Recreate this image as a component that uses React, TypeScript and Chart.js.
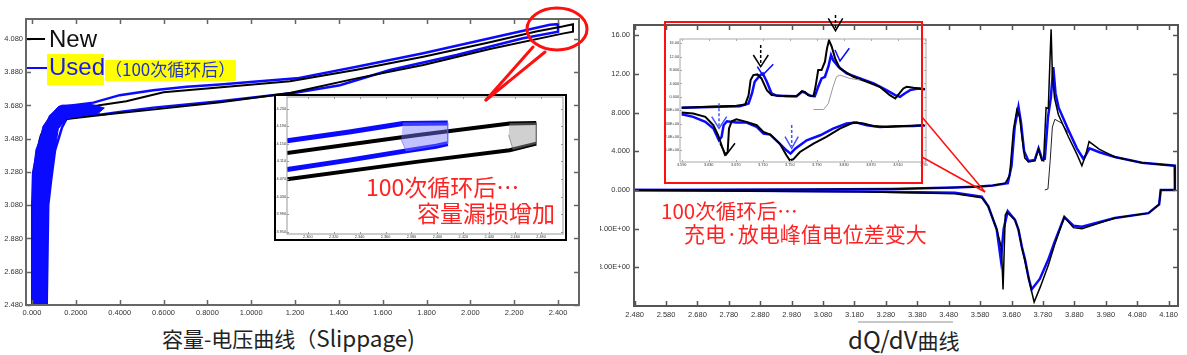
import React, { useEffect, useRef } from "react";
import { Chart, registerables } from "chart.js";

Chart.register(...registerables);

type P = [number, number];

const BLUE = "#0a0aff";
const NARROW = '"Liberation Sans", Arial, sans-serif';
const CJK = '"Noto Sans CJK JP", "Noto Sans CJK SC", sans-serif';

// ---------- Left chart: capacity / voltage ----------
const CV_X_TICKS = [0, 0.2, 0.4, 0.6, 0.8, 1.0, 1.2, 1.4, 1.6, 1.8, 2.0, 2.2, 2.4];
const CV_X_LABELS = ["0.000", "0.2000", "0.4000", "0.6000", "0.8000", "1.0000", "1.200", "1.400", "1.600", "1.800", "2.000", "2.200", "2.400"];
const CV_Y_TICKS = [2.48, 2.68, 2.88, 3.08, 3.28, 3.48, 3.68, 3.88, 4.08];
const CV_Y_LABELS = ["2.480", "2.680", "2.880", "3.080", "3.280", "3.480", "3.680", "3.880", "4.080"];

const NEW_LOOP: P[] = [
  [0.004, 2.48], [0.006, 3.0], [0.012, 3.3], [0.04, 3.5], [0.08, 3.6], [0.12, 3.655], [0.2, 3.672],
  [0.3, 3.68], [0.43, 3.705], [0.6, 3.76], [0.89, 3.792], [1.177, 3.826], [1.481, 3.895], [1.785, 3.973],
  [2.089, 4.06], [2.3, 4.125], [2.42, 4.155], [2.468, 4.169], [2.468, 4.124], [2.42, 4.112], [2.089, 4.02],
  [1.785, 3.923], [1.481, 3.843], [1.177, 3.755], [0.86, 3.7], [0.55, 3.655], [0.356, 3.628], [0.158, 3.598],
  [0.12, 3.58], [0.1, 3.53], [0.06, 3.3], [0.03, 3.0], [0.015, 2.48],
];
const USED_LOOP: P[] = [
  [0.0, 2.48], [0.001, 3.08], [0.005, 3.276], [0.036, 3.476], [0.082, 3.615], [0.128, 3.671], [0.189, 3.681],
  [0.28, 3.697], [0.4, 3.742], [0.553, 3.772], [0.706, 3.792], [0.858, 3.806], [1.01, 3.822], [1.208, 3.843],
  [1.481, 3.913], [1.785, 3.994], [2.089, 4.084], [2.363, 4.165], [2.4, 4.169], [2.4, 4.124], [2.24, 4.084],
  [1.937, 3.983], [1.633, 3.893], [1.405, 3.802], [1.208, 3.758], [0.858, 3.705], [0.553, 3.667], [0.4, 3.641],
  [0.325, 3.627], [0.25, 3.621], [0.158, 3.601], [0.137, 3.548], [0.105, 3.41], [0.087, 3.23], [0.074, 3.08],
  [0.067, 2.48],
];
const USED_BAND: P[] = [
  [-0.001, 2.48], [0.0, 2.88], [0.001, 3.08], [0.005, 3.276], [0.018, 3.415], [0.036, 3.476], [0.05, 3.555],
  [0.082, 3.615], [0.119, 3.672], [0.137, 3.682], [0.19, 3.682], [0.26, 3.69], [0.33, 3.665], [0.3, 3.63],
  [0.22, 3.615], [0.158, 3.6], [0.12, 3.54], [0.105, 3.41], [0.087, 3.23], [0.074, 3.08], [0.068, 2.88],
  [0.067, 2.48],
];

// ---------- Left inset ----------
const CI_X_TICKS = [2.3, 2.32, 2.34, 2.36, 2.38, 2.4, 2.42, 2.44, 2.46, 2.48];
const CI_X_LABELS = ["2.300", "2.320", "2.340", "2.360", "2.380", "2.400", "2.420", "2.440", "2.460", "2.480"];
const CI_Y_TICKS = [3.95, 3.99, 4.03, 4.07, 4.11, 4.15, 4.19, 4.23];
const CI_Y_LABELS = ["3.950", "3.990", "4.030", "4.070", "4.110", "4.150", "4.190", "4.230"];
const CI_USED_UP: P[] = [[2.284, 4.157], [2.332, 4.177], [2.3734, 4.196], [2.408, 4.1975]];
const CI_USED_LOW: P[] = [[2.284, 4.0916], [2.332, 4.113], [2.3759, 4.134], [2.399, 4.1446], [2.408, 4.1506]];
const CI_USED_FAN: P[] = [[2.3734, 4.1975], [2.408, 4.1975], [2.408, 4.1506], [2.3759, 4.134], [2.372, 4.16]];
const CI_NEW_UP: P[] = [[2.284, 4.1294], [2.3837, 4.1695], [2.4557, 4.196], [2.4763, 4.1975]];
const CI_NEW_LOW: P[] = [[2.284, 4.0697], [2.3837, 4.109], [2.4557, 4.1355], [2.4763, 4.1506]];
const CI_NEW_FAN: P[] = [[2.4557, 4.196], [2.4763, 4.1975], [2.4763, 4.1506], [2.4583, 4.137], [2.455, 4.17]];

// ---------- Right chart: dQ/dV ----------
const DQ_X_TICKS = [2.48, 2.58, 2.68, 2.78, 2.88, 2.98, 3.08, 3.18, 3.28, 3.38, 3.48, 3.58, 3.68, 3.78, 3.88, 3.98, 4.08, 4.18];
const DQ_X_LABELS = ["2.480", "2.580", "2.680", "2.780", "2.880", "2.980", "3.080", "3.180", "3.280", "3.380", "3.480", "3.580", "3.680", "3.780", "3.880", "3.980", "4.080", "4.180"];
const DQ_Y_TICKS = [-8, -4, 0, 4, 8, 12, 16];
const DQ_Y_LABELS = ["-8.00E+00", "-4.00E+00", "0.000", "4.000", "8.000", "12.00", "16.00"];

const NEW_CHG: P[] = [
  [2.48, 0.0], [3.0, 0.05], [3.3, 0.1], [3.5, 0.25], [3.58, 0.35], [3.62, 0.45], [3.66, 0.7], [3.674, 1.5],
  [3.686, 6.2], [3.697, 8.3], [3.706, 7.5], [3.713, 5.5], [3.722, 3.3], [3.734, 2.9], [3.754, 3.0], [3.766, 4.2],
  [3.776, 3.1], [3.782, 3.0], [3.79, 8.5], [3.797, 8.4], [3.803, 14], [3.806, 16.6], [3.81, 12], [3.817, 9.5],
  [3.829, 7.8], [3.861, 5.5], [3.888, 3.7], [3.904, 2.5], [3.915, 3.5], [3.927, 5.0], [3.96, 4.2], [4.009, 3.4],
  [4.095, 2.8], [4.199, 2.5], [4.2, 0],
];
const NEW_DIS: P[] = [
  [4.2, 0], [4.155, 0], [4.15, -1.5], [4.116, -2.4], [4.009, -2.9], [3.904, -4.0], [3.877, -3.9], [3.848, -2.8],
  [3.818, -5.6], [3.797, -7.8], [3.772, -10], [3.752, -11.6], [3.744, -10.5], [3.723, -7.4], [3.713, -6.0],
  [3.702, -4.1], [3.691, -3.1], [3.665, -2.3], [3.66, -2.6], [3.653, -10.3], [3.648, -6], [3.633, -4.1],
  [3.606, -1.7], [3.585, -0.8], [3.5, -0.4], [3.2, -0.2], [2.48, -0.05],
];
const FIRST_CHG: P[] = [[3.786, 0], [3.796, 0.1], [3.803, 3], [3.81, 6.5], [3.818, 7.3], [3.84, 6.9], [3.86, 5.9]];
const USED_CHG: P[] = [
  [2.48, 0.0], [3.0, 0.05], [3.3, 0.1], [3.5, 0.25], [3.58, 0.35], [3.62, 0.45], [3.668, 0.7], [3.68, 2.5],
  [3.69, 6.5], [3.702, 8.6], [3.71, 7.0], [3.72, 4.0], [3.734, 3.0], [3.754, 3.1], [3.766, 4.3], [3.778, 3.1],
  [3.786, 3.2], [3.796, 7.5], [3.805, 9.5], [3.813, 12.7], [3.82, 10], [3.83, 8.5], [3.861, 6.2], [3.888, 4.3],
  [3.909, 3.2], [3.918, 3.7], [3.928, 4.3], [3.96, 3.9], [4.009, 3.4], [4.095, 2.8], [4.2, 2.5], [4.2, 0],
];
const USED_DIS: P[] = [
  [4.2, 0], [4.155, 0], [4.15, -1.5], [4.116, -2.4], [4.009, -2.9], [3.904, -3.8], [3.877, -3.7], [3.848, -2.8],
  [3.818, -5.3], [3.797, -7.2], [3.77, -9.2], [3.744, -10.3], [3.735, -9.2], [3.723, -7.2], [3.713, -5.9],
  [3.702, -4.1], [3.691, -3.1], [3.668, -2.2], [3.655, -4], [3.646, -7.2], [3.633, -4.1], [3.606, -1.7],
  [3.585, -0.7], [3.5, -0.3], [3.2, -0.15], [2.48, 0],
];

// ---------- Right inset ----------
const DI_X_TICKS = [3.59, 3.63, 3.67, 3.71, 3.75, 3.79, 3.83, 3.87, 3.91, 3.95];
const DI_X_LABELS = ["3.590", "3.630", "3.670", "3.710", "3.750", "3.790", "3.830", "3.870", "3.910", "3.950"];
const DI_Y_TICKS = [-16, -12, -8, -4, 0, 4, 8, 12, 16];
const DI_Y_LABELS = ["-16.0E+00", "-12.0E+00", "-8.00E+00", "-4.00E+00", "0.000", "4.000", "8.000", "12.00", "16.00"];
const DI_NEW_CHG: P[] = [
  [3.59, -3.3], [3.671, -2.7], [3.684, -2.3], [3.689, 0.5], [3.692, 5.0], [3.696, 6.5], [3.702, 6.7], [3.708, 5.5],
  [3.716, 2.0], [3.723, 0.5], [3.745, 0.2], [3.76, 0.2], [3.768, 1.7], [3.772, 1.5], [3.777, 0.5], [3.785, 0.2],
  [3.788, 3.0], [3.792, 8.0], [3.797, 8.0], [3.802, 10.5], [3.805, 14.5], [3.808, 16.9], [3.812, 15.0],
  [3.817, 11.5], [3.824, 8.5], [3.844, 6.0], [3.864, 4.5], [3.883, 3.0], [3.898, 0.5], [3.906, -0.5],
  [3.91, 0.5], [3.918, 2.5], [3.923, 3.0], [3.933, 2.7], [3.95, 2.3],
];
const DI_USED_CHG: P[] = [
  [3.59, -3.3], [3.676, -2.8], [3.689, -2.0], [3.694, 1.0], [3.698, 4.5], [3.706, 6.5], [3.71, 7.0], [3.716, 4.5],
  [3.723, 1.0], [3.731, 0.3], [3.76, 0.2], [3.768, 1.5], [3.772, 1.3], [3.78, 0.3], [3.787, 0.2], [3.792, 3.0],
  [3.797, 5.5], [3.802, 6.0], [3.807, 9.0], [3.811, 12.5], [3.814, 11.0], [3.822, 9.0], [3.834, 7.0],
  [3.854, 5.5], [3.874, 4.0], [3.893, 2.0], [3.906, 0.5], [3.913, 0.0], [3.92, 1.0], [3.928, 2.0], [3.94, 2.5],
  [3.95, 2.3],
];
const DI_FIRST_CHG: P[] = [[3.785, -3.8], [3.8, -3.8], [3.807, -2.0], [3.814, 3.0], [3.819, 6.0], [3.824, 6.5], [3.839, 5.5], [3.854, 5.0]];
const DI_NEW_DIS: P[] = [
  [3.59, -4.7], [3.607, -5.0], [3.625, -6.0], [3.637, -8.5], [3.644, -11.5], [3.649, -14.5], [3.654, -17.3],
  [3.658, -16.5], [3.66, -9.5], [3.664, -7.3], [3.671, -6.7], [3.686, -7.5], [3.701, -8.5], [3.711, -10.5],
  [3.721, -11.3], [3.735, -14.0], [3.745, -17.5], [3.75, -19.0], [3.755, -18.7], [3.765, -16.5], [3.785, -14.0],
  [3.804, -12.0], [3.824, -9.5], [3.844, -7.7], [3.859, -8.0], [3.873, -8.7], [3.893, -9.0], [3.918, -8.7],
  [3.95, -8.5],
];
const DI_USED_DIS: P[] = [
  [3.59, -5.2], [3.607, -6.0], [3.625, -7.5], [3.637, -9.5], [3.645, -13.0], [3.649, -12.0], [3.652, -8.5],
  [3.657, -7.3], [3.671, -7.7], [3.686, -7.7], [3.701, -9.0], [3.711, -11.0], [3.721, -11.3], [3.735, -14.0],
  [3.745, -16.0], [3.751, -17.0], [3.758, -15.5], [3.775, -13.0], [3.795, -11.5], [3.814, -9.5], [3.834, -8.0],
  [3.849, -7.7], [3.864, -8.5], [3.883, -9.0], [3.908, -8.8], [3.933, -8.7], [3.95, -8.5],
];

// ---------- helpers ----------
const pts = (a: P[]) => a.map(([x, y]) => ({ x, y }));

function line(data: P[], color: string, width: number, extra: any = {}) {
  return {
    data: pts(data),
    borderColor: color,
    backgroundColor: color,
    borderWidth: width,
    pointRadius: 0,
    fill: false,
    tension: 0,
    ...extra,
  };
}

function framePlugin(color: string, width: number, tickLen: number) {
  return {
    id: "frame",
    afterDatasetsDraw(chart: any) {
      const { ctx, chartArea: a, scales } = chart;
      ctx.save();
      ctx.strokeStyle = color;
      ctx.lineWidth = width;
      ctx.strokeRect(a.left, a.top, a.right - a.left, a.bottom - a.top);
      ctx.beginPath();
      scales.x.ticks.forEach((t: any) => {
        const px = Math.round(scales.x.getPixelForValue(t.value)) + 0.5;
        ctx.moveTo(px, a.bottom);
        ctx.lineTo(px, a.bottom - tickLen);
        ctx.moveTo(px, a.top);
        ctx.lineTo(px, a.top + tickLen);
      });
      scales.y.ticks.forEach((t: any) => {
        const py = Math.round(scales.y.getPixelForValue(t.value)) + 0.5;
        ctx.moveTo(a.left, py);
        ctx.lineTo(a.left + tickLen, py);
        ctx.moveTo(a.right, py);
        ctx.lineTo(a.right - tickLen, py);
      });
      ctx.lineWidth = Math.max(1, width - 0.5);
      ctx.stroke();
      ctx.restore();
    },
  };
}

interface AxisSpec {
  xMin: number; xMax: number; yMin: number; yMax: number;
  xTicks: number[]; xLabels: string[]; yTicks: number[]; yLabels: string[];
  yWidth: number; xHeight: number; padding: any; fontSize: number; tickPad: number;
}

function makeOptions(s: AxisSpec) {
  const font = { size: s.fontSize, family: NARROW };
  return {
    responsive: false,
    animation: false,
    events: [],
    layout: { padding: s.padding },
    plugins: { legend: { display: false }, tooltip: { enabled: false } },
    scales: {
      x: {
        type: "linear",
        min: s.xMin,
        max: s.xMax,
        grid: { display: false, drawTicks: false },
        border: { display: false },
        afterBuildTicks: (sc: any) => { sc.ticks = s.xTicks.map((v) => ({ value: v })); },
        afterFit: (sc: any) => { sc.height = s.xHeight; sc.paddingLeft = 0; sc.paddingRight = 0; },
        ticks: {
          autoSkip: false, maxRotation: 0, minRotation: 0, padding: s.tickPad, font, color: "#333",
          callback: (_v: any, i: number) => s.xLabels[i],
        },
      },
      y: {
        type: "linear",
        min: s.yMin,
        max: s.yMax,
        grid: { display: false, drawTicks: false },
        border: { display: false },
        afterBuildTicks: (sc: any) => { sc.ticks = s.yTicks.map((v) => ({ value: v })); },
        afterFit: (sc: any) => { sc.width = s.yWidth; sc.paddingTop = 0; sc.paddingBottom = 0; },
        ticks: {
          autoSkip: false, padding: s.tickPad, font, color: "#333",
          callback: (_v: any, i: number) => s.yLabels[i],
        },
      },
    },
  };
}

function ChartBox(props: { left: number; top: number; width: number; height: number; datasets: any[]; spec: AxisSpec; frame: any; bg?: string }) {
  const ref = useRef<HTMLCanvasElement | null>(null);
  useEffect(() => {
    if (!ref.current) return;
    const chart = new Chart(ref.current, {
      type: "line",
      data: { datasets: props.datasets },
      options: makeOptions(props.spec) as any,
      plugins: [props.frame],
    } as any);
    return () => chart.destroy();
  }, []);
  return (
    <canvas
      ref={ref}
      width={props.width}
      height={props.height}
      style={{ position: "absolute", left: props.left, top: props.top, width: props.width, height: props.height, background: props.bg || "transparent", display: "block" }}
    />
  );
}

const abs = (left: number, top: number, extra: any = {}) => ({ position: "absolute" as const, left, top, whiteSpace: "nowrap" as const, ...extra });

export default function App() {
  const cvSpec: AxisSpec = {
    xMin: -0.0274, xMax: 2.4955, yMin: 2.48, yMax: 4.2,
    xTicks: CV_X_TICKS, xLabels: CV_X_LABELS, yTicks: CV_Y_TICKS, yLabels: CV_Y_LABELS,
    yWidth: 26, xHeight: 15, padding: { top: 19, right: 11, left: 0, bottom: 0 }, fontSize: 7.5, tickPad: 3,
  };
  const ciSpec: AxisSpec = {
    xMin: 2.284, xMax: 2.4969, yMin: 3.945, yMax: 4.2565,
    xTicks: CI_X_TICKS, xLabels: CI_X_LABELS, yTicks: CI_Y_TICKS, yLabels: CI_Y_LABELS,
    yWidth: 11, xHeight: 5, padding: { top: 1, right: 2, left: 0, bottom: 0 }, fontSize: 3.8, tickPad: 1,
  };
  const dqSpec: AxisSpec = {
    xMin: 2.478, xMax: 4.21, yMin: -12, yMax: 17.05,
    xTicks: DQ_X_TICKS, xLabels: DQ_X_LABELS, yTicks: DQ_Y_TICKS, yLabels: DQ_Y_LABELS,
    yWidth: 34, xHeight: 14, padding: { top: 25, right: 9, left: 0, bottom: 0 }, fontSize: 7.5, tickPad: 4,
  };
  const diSpec: AxisSpec = {
    xMin: 3.5875, xMax: 3.9515, yMin: -19.5, yMax: 17.3,
    xTicks: DI_X_TICKS, xLabels: DI_X_LABELS, yTicks: DI_Y_TICKS, yLabels: DI_Y_LABELS,
    yWidth: 16, xHeight: 6, padding: { top: 3, right: 2, left: 0, bottom: 0 }, fontSize: 3.8, tickPad: 1,
  };

  const cvSets = [
    line(USED_BAND, BLUE, 1, { fill: "shape", backgroundColor: BLUE }),
    line(NEW_LOOP, "#000", 2),
    line(USED_LOOP, BLUE, 2.5),
  ];
  const ciSets = [
    line(CI_USED_FAN, "rgba(90,90,255,0.55)", 1, { fill: "shape", backgroundColor: "rgba(120,120,255,0.45)" }),
    line(CI_NEW_FAN, "rgba(90,90,90,0.55)", 1, { fill: "shape", backgroundColor: "rgba(150,150,150,0.45)" }),
    line(CI_USED_UP, BLUE, 5),
    line(CI_USED_LOW, BLUE, 5),
    line(CI_NEW_UP, "#000", 4),
    line(CI_NEW_LOW, "#000", 4),
  ];
  const dqSets = [
    line(NEW_CHG, "#000", 1.5),
    line(NEW_DIS, "#000", 1.5),
    line(FIRST_CHG, "#222", 1),
    line(USED_CHG, BLUE, 2.5),
    line(USED_DIS, BLUE, 2.5),
  ];
  const diSets = [
    line(DI_FIRST_CHG, "#999", 1),
    line(DI_NEW_CHG, "#000", 2),
    line(DI_NEW_DIS, "#000", 2),
    line(DI_USED_CHG, BLUE, 2.5),
    line(DI_USED_DIS, BLUE, 2.5),
  ];

  return (
    <div style={{ position: "absolute", left: 0, top: 0, width: 1187, height: 355, background: "#fff", overflow: "hidden" }}>
      <ChartBox left={0} top={0} width={590} height={320} datasets={cvSets} spec={cvSpec} frame={framePlugin("#666", 2, 5)} />
      <ChartBox left={600} top={0} width={587} height={320} datasets={dqSets} spec={dqSpec} frame={framePlugin("#555", 2, 5)} />

      {/* left inset */}
      <div style={{ position: "absolute", left: 274, top: 94, width: 293, height: 147, border: "2px solid #000", boxSizing: "border-box", background: "#fff" }} />
      <ChartBox left={276} top={96} width={289} height={143} datasets={ciSets} spec={ciSpec} frame={framePlugin("#999", 1, 2)} />

      {/* right inset */}
      <div style={{ position: "absolute", left: 666, top: 36, width: 262, height: 132, background: "#fff" }} />
      <ChartBox left={664} top={36} width={264} height={132} datasets={diSets} spec={diSpec} frame={framePlugin("#aaa", 1, 2)} />

      {/* legend */}
      <div style={abs(47, 54, { width: 57, height: 31, background: "#ffff00" })} />
      <div style={abs(105, 60, { width: 131, height: 21, background: "#ffff00" })} />
      <div style={abs(49, 27, { fontFamily: '"Liberation Sans", sans-serif', fontSize: 24, lineHeight: 1, color: "#111" })}>New</div>
      <div style={abs(49, 55, { fontFamily: '"Liberation Sans", sans-serif', fontSize: 24, lineHeight: 1, color: "#1a1aee" })}>Used</div>
      <div style={abs(105, 60, { fontFamily: CJK, fontSize: 17, lineHeight: 1, color: "#2233cc" })}>（100次循环后）</div>

      {/* red annotations */}
      <div style={abs(366, 175, { fontFamily: CJK, fontSize: 23, lineHeight: 1, color: "#ff2222" })}>100次循环后…</div>
      <div style={abs(417, 201, { fontFamily: CJK, fontSize: 23, lineHeight: 1, color: "#ff2222" })}>容量漏损增加</div>
      <div style={abs(661, 200, { fontFamily: CJK, fontSize: 20.5, lineHeight: 1, color: "#ff2222" })}>100次循环后…</div>
      <div style={abs(684, 223, { fontFamily: CJK, fontSize: 21, lineHeight: 1, color: "#ff2222" })}>充电·放电峰值电位差变大</div>

      {/* titles */}
      <div style={abs(162, 326, { fontFamily: CJK, fontSize: 21, lineHeight: 1, color: "#222" })}>
        容量-电压曲线（<span style={{ fontSize: 22.5 }}>Slippage)</span>
      </div>
      <div style={abs(848, 327, { fontFamily: CJK, lineHeight: "24px", color: "#222" })}>
        <span style={{ fontSize: 24 }}>dQ/dV</span><span style={{ fontSize: 21 }}>曲线</span>
      </div>

      <svg width={1187} height={355} style={{ position: "absolute", left: 0, top: 0, pointerEvents: "none" }}>
        {/* legend line marks */}
        <line x1={27} y1={39} x2={45} y2={39} stroke="#000" strokeWidth={2} />
        <line x1={27} y1={68} x2={47} y2={68} stroke={BLUE} strokeWidth={2} />
        {/* red ellipse callout */}
        <ellipse cx={557} cy={29} rx={30} ry={21} fill="none" stroke="#ff1010" strokeWidth={3} />
        <line x1={533} y1={47} x2={486} y2={100} stroke="#ff1010" strokeWidth={3} strokeLinecap="round" />
        <line x1={545} y1={52} x2={486} y2={100} stroke="#ff1010" strokeWidth={3} strokeLinecap="round" />
        {/* right red box and connectors */}
        <rect x={665} y={22} width={257} height={161} fill="none" stroke="#ff1010" strokeWidth={2} />
        <line x1={922} y1={117} x2={985} y2={192} stroke="#ff1010" strokeWidth={1.5} />
        <line x1={922} y1={157} x2={985} y2={192} stroke="#ff1010" strokeWidth={1.5} />
        {/* arrows */}
        <g fill="none" strokeWidth={1.5}>
          <line x1={835.5} y1={15} x2={835.5} y2={30} stroke="#000" strokeDasharray="3,2" />
          <polyline points="828.3,18.3 835.5,30.7 842.7,18.3" stroke="#000" />
          <line x1={760.7} y1={45} x2={760.7} y2={64} stroke="#000" strokeDasharray="3,2" />
          <polyline points="753.3,55 760.7,66.7 768.3,55" stroke="#000" />
          <polyline points="757.3,66.7 762.7,75 773.3,64.3" stroke={BLUE} />
          <polyline points="835,50 840,61 849.3,48.3" stroke={BLUE} />
          <line x1={719} y1={103.3} x2={719} y2={126} stroke="#4455ff" strokeDasharray="3,2" />
          <polyline points="711.7,116.7 719,128.3 726.7,116.7" stroke="#4455ff" />
          <polyline points="720,143.3 726,155 735,143.3" stroke="#000" />
          <line x1={791.7} y1={125} x2={791.7} y2={146} stroke="#4455ff" strokeDasharray="3,2" />
          <polyline points="785,136.7 791.7,148.3 798.3,136.7" stroke="#4455ff" />
        </g>
        <line x1={858} y1={322} x2={953} y2={322} stroke="#c8c8c8" strokeWidth={2} />
      </svg>
    </div>
  );
}
